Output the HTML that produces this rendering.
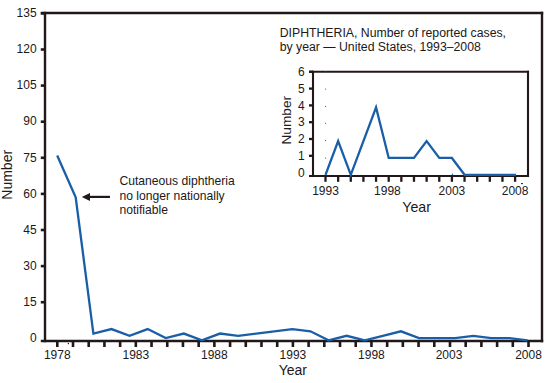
<!DOCTYPE html>
<html><head><meta charset="utf-8"><style>
html,body{margin:0;padding:0;background:#fff;width:559px;height:383px;overflow:hidden}
svg{display:block}
text{font-family:"Liberation Sans",sans-serif}
</style></head><body>
<svg width="559" height="383" viewBox="0 0 559 383" font-family="Liberation Sans, sans-serif" fill="#211819"><line x1="40.80" y1="12.95" x2="543.20" y2="12.95" stroke="#211819" stroke-width="2.4"/>
<line x1="45.00" y1="11.75" x2="45.00" y2="342.20" stroke="#211819" stroke-width="2.4"/>
<line x1="542.00" y1="11.75" x2="542.00" y2="342.20" stroke="#211819" stroke-width="2.4"/>
<line x1="40.80" y1="341.00" x2="543.20" y2="341.00" stroke="#211819" stroke-width="2.4"/>
<text x="36.60" y="341.80" font-size="12" text-anchor="end" >0</text>
<line x1="40.80" y1="302.20" x2="45.00" y2="302.20" stroke="#211819" stroke-width="2.6"/>
<text x="36.60" y="305.70" font-size="12" text-anchor="end" >15</text>
<line x1="40.80" y1="266.10" x2="45.00" y2="266.10" stroke="#211819" stroke-width="2.6"/>
<text x="36.60" y="269.60" font-size="12" text-anchor="end" >30</text>
<line x1="40.80" y1="230.00" x2="45.00" y2="230.00" stroke="#211819" stroke-width="2.6"/>
<text x="36.60" y="233.50" font-size="12" text-anchor="end" >45</text>
<line x1="40.80" y1="193.90" x2="45.00" y2="193.90" stroke="#211819" stroke-width="2.6"/>
<text x="36.60" y="198.10" font-size="12" text-anchor="end" >60</text>
<line x1="40.80" y1="157.80" x2="45.00" y2="157.80" stroke="#211819" stroke-width="2.6"/>
<text x="36.60" y="162.00" font-size="12" text-anchor="end" >75</text>
<line x1="40.80" y1="121.70" x2="45.00" y2="121.70" stroke="#211819" stroke-width="2.6"/>
<text x="36.60" y="125.20" font-size="12" text-anchor="end" >90</text>
<line x1="40.80" y1="85.60" x2="45.00" y2="85.60" stroke="#211819" stroke-width="2.6"/>
<text x="36.60" y="89.10" font-size="12" text-anchor="end" >105</text>
<line x1="40.80" y1="49.50" x2="45.00" y2="49.50" stroke="#211819" stroke-width="2.6"/>
<text x="36.60" y="53.00" font-size="12" text-anchor="end" >120</text>
<line x1="40.80" y1="13.40" x2="45.00" y2="13.40" stroke="#211819" stroke-width="2.6"/>
<text x="36.60" y="16.90" font-size="12" text-anchor="end" >135</text>
<line x1="57.30" y1="341.00" x2="57.30" y2="347.00" stroke="#211819" stroke-width="2.6"/>
<text x="57.30" y="359.00" font-size="12" text-anchor="middle" >1978</text>
<line x1="73.01" y1="341.00" x2="73.01" y2="347.00" stroke="#211819" stroke-width="2.6"/>
<line x1="88.71" y1="341.00" x2="88.71" y2="347.00" stroke="#211819" stroke-width="2.6"/>
<line x1="104.42" y1="341.00" x2="104.42" y2="347.00" stroke="#211819" stroke-width="2.6"/>
<line x1="120.13" y1="341.00" x2="120.13" y2="347.00" stroke="#211819" stroke-width="2.6"/>
<line x1="135.83" y1="341.00" x2="135.83" y2="347.00" stroke="#211819" stroke-width="2.6"/>
<text x="135.83" y="359.00" font-size="12" text-anchor="middle" >1983</text>
<line x1="151.54" y1="341.00" x2="151.54" y2="347.00" stroke="#211819" stroke-width="2.6"/>
<line x1="167.25" y1="341.00" x2="167.25" y2="347.00" stroke="#211819" stroke-width="2.6"/>
<line x1="182.96" y1="341.00" x2="182.96" y2="347.00" stroke="#211819" stroke-width="2.6"/>
<line x1="198.66" y1="341.00" x2="198.66" y2="347.00" stroke="#211819" stroke-width="2.6"/>
<line x1="214.37" y1="341.00" x2="214.37" y2="347.00" stroke="#211819" stroke-width="2.6"/>
<text x="214.37" y="359.00" font-size="12" text-anchor="middle" >1988</text>
<line x1="230.08" y1="341.00" x2="230.08" y2="347.00" stroke="#211819" stroke-width="2.6"/>
<line x1="245.78" y1="341.00" x2="245.78" y2="347.00" stroke="#211819" stroke-width="2.6"/>
<line x1="261.49" y1="341.00" x2="261.49" y2="347.00" stroke="#211819" stroke-width="2.6"/>
<line x1="277.20" y1="341.00" x2="277.20" y2="347.00" stroke="#211819" stroke-width="2.6"/>
<line x1="292.91" y1="341.00" x2="292.91" y2="347.00" stroke="#211819" stroke-width="2.6"/>
<text x="292.91" y="359.00" font-size="12" text-anchor="middle" >1993</text>
<line x1="308.61" y1="341.00" x2="308.61" y2="347.00" stroke="#211819" stroke-width="2.6"/>
<line x1="324.32" y1="341.00" x2="324.32" y2="347.00" stroke="#211819" stroke-width="2.6"/>
<line x1="340.03" y1="341.00" x2="340.03" y2="347.00" stroke="#211819" stroke-width="2.6"/>
<line x1="355.73" y1="341.00" x2="355.73" y2="347.00" stroke="#211819" stroke-width="2.6"/>
<line x1="371.44" y1="341.00" x2="371.44" y2="347.00" stroke="#211819" stroke-width="2.6"/>
<text x="371.44" y="359.00" font-size="12" text-anchor="middle" >1998</text>
<line x1="387.15" y1="341.00" x2="387.15" y2="347.00" stroke="#211819" stroke-width="2.6"/>
<line x1="402.85" y1="341.00" x2="402.85" y2="347.00" stroke="#211819" stroke-width="2.6"/>
<line x1="418.56" y1="341.00" x2="418.56" y2="347.00" stroke="#211819" stroke-width="2.6"/>
<line x1="434.27" y1="341.00" x2="434.27" y2="347.00" stroke="#211819" stroke-width="2.6"/>
<line x1="449.98" y1="341.00" x2="449.98" y2="347.00" stroke="#211819" stroke-width="2.6"/>
<text x="448.98" y="359.00" font-size="12" text-anchor="middle" >2003</text>
<line x1="465.68" y1="341.00" x2="465.68" y2="347.00" stroke="#211819" stroke-width="2.6"/>
<line x1="481.39" y1="341.00" x2="481.39" y2="347.00" stroke="#211819" stroke-width="2.6"/>
<line x1="497.10" y1="341.00" x2="497.10" y2="347.00" stroke="#211819" stroke-width="2.6"/>
<line x1="512.80" y1="341.00" x2="512.80" y2="347.00" stroke="#211819" stroke-width="2.6"/>
<line x1="528.51" y1="341.00" x2="528.51" y2="347.00" stroke="#211819" stroke-width="2.6"/>
<text x="528.51" y="359.00" font-size="12" text-anchor="middle" >2008</text>
<text x="292.80" y="374.80" font-size="14" text-anchor="middle" >Year</text>
<text x="0" y="0" font-size="14" text-anchor="middle" transform="translate(12.2,174.8) rotate(-90)">Number</text>
<polyline points="57.20,155.52 75.69,197.33 93.38,333.55 111.47,329.05 129.56,335.80 147.65,329.05 165.74,338.05 183.83,333.55 201.92,340.30 220.01,333.55 238.10,335.80 256.19,333.55 274.28,331.30 292.37,329.05 310.46,331.30 328.55,340.30 346.64,335.80 364.73,340.30 382.82,335.80 400.91,331.30 419.00,338.05 437.09,338.05 455.18,338.05 473.27,335.80 491.36,338.05 509.45,338.05 527.54,340.30" fill="none" stroke="#1a5ea8" stroke-width="2.3" stroke-linejoin="miter"/>
<line x1="88.00" y1="196.90" x2="110.00" y2="196.90" stroke="#211819" stroke-width="2.2"/>
<polygon points="81.8,196.9 90.0,192.9 90.0,200.9" fill="#211819"/>
<text x="119.40" y="185.00" font-size="12.15" text-anchor="start" >Cutaneous diphtheria</text>
<text x="119.40" y="199.80" font-size="12.15" text-anchor="start" >no longer nationally</text>
<text x="119.40" y="214.10" font-size="12.15" text-anchor="start" >notifiable</text>
<text x="279.70" y="37.00" font-size="12.28" text-anchor="start" >DIPHTHERIA, Number of reported cases,</text>
<text x="279.70" y="50.60" font-size="12.28" text-anchor="start" >by year — United States, 1993–2008</text>
<line x1="309.00" y1="71.80" x2="529.05" y2="71.80" stroke="#211819" stroke-width="2.1"/>
<line x1="313.00" y1="70.75" x2="313.00" y2="177.05" stroke="#211819" stroke-width="2.1"/>
<line x1="528.00" y1="70.75" x2="528.00" y2="177.05" stroke="#211819" stroke-width="2.1"/>
<line x1="309.00" y1="176.00" x2="529.05" y2="176.00" stroke="#211819" stroke-width="2.1"/>
<text x="304.80" y="176.70" font-size="12" text-anchor="end" >0</text>
<line x1="309.00" y1="155.80" x2="313.00" y2="155.80" stroke="#211819" stroke-width="2.3"/>
<text x="304.80" y="159.90" font-size="12" text-anchor="end" >1</text>
<line x1="309.00" y1="139.00" x2="313.00" y2="139.00" stroke="#211819" stroke-width="2.3"/>
<text x="304.80" y="143.10" font-size="12" text-anchor="end" >2</text>
<line x1="309.00" y1="122.20" x2="313.00" y2="122.20" stroke="#211819" stroke-width="2.3"/>
<text x="304.80" y="126.30" font-size="12" text-anchor="end" >3</text>
<line x1="309.00" y1="105.40" x2="313.00" y2="105.40" stroke="#211819" stroke-width="2.3"/>
<text x="304.80" y="109.50" font-size="12" text-anchor="end" >4</text>
<line x1="309.00" y1="88.60" x2="313.00" y2="88.60" stroke="#211819" stroke-width="2.3"/>
<text x="304.80" y="92.70" font-size="12" text-anchor="end" >5</text>
<line x1="309.00" y1="71.80" x2="313.00" y2="71.80" stroke="#211819" stroke-width="2.3"/>
<text x="304.80" y="75.90" font-size="12" text-anchor="end" >6</text>
<line x1="325.50" y1="176.00" x2="325.50" y2="181.80" stroke="#211819" stroke-width="2.3"/>
<text x="325.50" y="195.00" font-size="12" text-anchor="middle" >1993</text>
<line x1="338.14" y1="176.00" x2="338.14" y2="181.80" stroke="#211819" stroke-width="2.3"/>
<line x1="350.78" y1="176.00" x2="350.78" y2="181.80" stroke="#211819" stroke-width="2.3"/>
<line x1="363.42" y1="176.00" x2="363.42" y2="181.80" stroke="#211819" stroke-width="2.3"/>
<line x1="376.06" y1="176.00" x2="376.06" y2="181.80" stroke="#211819" stroke-width="2.3"/>
<line x1="388.70" y1="176.00" x2="388.70" y2="181.80" stroke="#211819" stroke-width="2.3"/>
<text x="387.40" y="195.00" font-size="12" text-anchor="middle" >1998</text>
<line x1="401.34" y1="176.00" x2="401.34" y2="181.80" stroke="#211819" stroke-width="2.3"/>
<line x1="413.98" y1="176.00" x2="413.98" y2="181.80" stroke="#211819" stroke-width="2.3"/>
<line x1="426.62" y1="176.00" x2="426.62" y2="181.80" stroke="#211819" stroke-width="2.3"/>
<line x1="439.26" y1="176.00" x2="439.26" y2="181.80" stroke="#211819" stroke-width="2.3"/>
<line x1="451.90" y1="176.00" x2="451.90" y2="181.80" stroke="#211819" stroke-width="2.3"/>
<text x="451.90" y="195.00" font-size="12" text-anchor="middle" >2003</text>
<line x1="464.54" y1="176.00" x2="464.54" y2="181.80" stroke="#211819" stroke-width="2.3"/>
<line x1="477.18" y1="176.00" x2="477.18" y2="181.80" stroke="#211819" stroke-width="2.3"/>
<line x1="489.82" y1="176.00" x2="489.82" y2="181.80" stroke="#211819" stroke-width="2.3"/>
<line x1="502.46" y1="176.00" x2="502.46" y2="181.80" stroke="#211819" stroke-width="2.3"/>
<line x1="515.10" y1="176.00" x2="515.10" y2="181.80" stroke="#211819" stroke-width="2.3"/>
<text x="515.10" y="195.00" font-size="12" text-anchor="middle" >2008</text>
<text x="416.60" y="211.80" font-size="14.2" text-anchor="middle" >Year</text>
<text x="0" y="0" font-size="13.7" text-anchor="middle" transform="translate(290.5,120.2) rotate(-90)">Number</text>
<rect x="325" y="71.4" width="1.1" height="1.1" fill="#1a5ea8" opacity="0.8"/>
<rect x="325" y="88.6" width="1.1" height="1.1" fill="#1a5ea8" opacity="0.8"/>
<rect x="325" y="105.9" width="1.1" height="1.1" fill="#1a5ea8" opacity="0.8"/>
<rect x="325" y="122.8" width="1.1" height="1.1" fill="#1a5ea8" opacity="0.8"/>
<rect x="325" y="140.0" width="1.1" height="1.1" fill="#1a5ea8" opacity="0.8"/>
<rect x="325" y="157.6" width="1.1" height="1.1" fill="#1a5ea8" opacity="0.8"/>
<polyline points="325.50,174.80 338.14,141.10 350.78,174.80 363.42,141.10 376.06,107.40 388.70,157.95 401.34,157.95 413.98,157.95 426.62,141.10 439.26,157.95 451.90,157.95 464.54,174.80 477.18,174.80 489.82,174.80 502.46,174.80 515.90,174.80" fill="none" stroke="#1a5ea8" stroke-width="2.3" stroke-linejoin="miter"/>
<rect x="67.8" y="343.0" width="1.2" height="1.2" fill="#211819"/>
<rect x="521" y="183.1" width="2" height="1" fill="#211819"/>
<circle cx="452.4" cy="174.3" r="0.7" fill="#1a5ea8"/></svg>
</body></html>
